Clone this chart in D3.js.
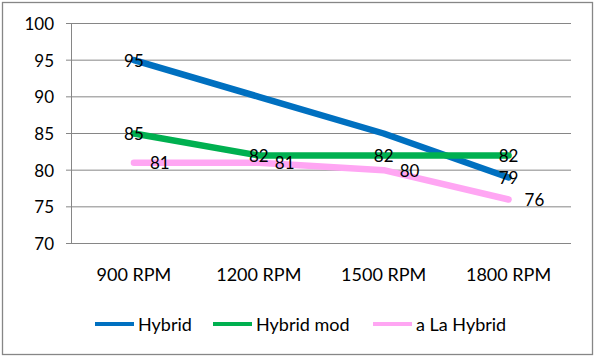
<!DOCTYPE html>
<html><head><meta charset="utf-8">
<script src="https://cdn.jsdelivr.net/npm/d3@7"></script>
<style>body{margin:0;background:#fff}svg{display:block}</style>
</head><body><svg id="c" width="595" height="357"></svg>
<script>
const categories = ["900 RPM","1200 RPM","1500 RPM","1800 RPM"];
const seriesNames = ["Hybrid","Hybrid mod","a La Hybrid"];
const hybrid = [95, 90, 85, 79];
const hybridMod = [85, 82, 82, 82];
const aLaHybrid = [81, 81, 80, 76];
const yTicks = [70, 75, 80, 85, 90, 95, 100];
// which points carry a data label
const hybridLabels = [true, false, false, true];
const hybridModLabels = [true, true, true, true];
const aLaHybridLabels = [true, true, true, true];

const colors = ["#0070C0", "#00B050", "#FFA6F3"];
const font = "Lato, 'Liberation Sans', sans-serif";

const svg = d3.select("#c");
svg.append("rect").attr("x", 2.5).attr("y", 2.5).attr("width", 590).attr("height", 352)
  .attr("fill", "#fff").attr("stroke", "#868686").attr("stroke-width", 1.3);

const x = d3.scaleBand().domain(categories).range([71.5, 571]);
const y = d3.scaleLinear().domain([70, 100]).range([243.5, 23.5]);

// gridlines
svg.append("g").selectAll("line").data(yTicks).join("line")
  .attr("x1", 66).attr("x2", 571).attr("y1", d => y(d)).attr("y2", d => y(d))
  .attr("stroke", "#868686").attr("stroke-width", 1);
// vertical axis line
svg.append("line").attr("x1", 71.5).attr("x2", 71.5).attr("y1", y(100)).attr("y2", y(70))
  .attr("stroke", "#868686").attr("stroke-width", 1);

// y tick labels
svg.append("g").selectAll("text").data(yTicks).join("text")
  .attr("x", 54).attr("y", d => y(d)).attr("text-anchor", "end")
  .attr("dominant-baseline", "central").attr("font-family", font).attr("font-size", 17)
  .attr("fill", "#000").text(d => d);

// x labels
svg.append("g").selectAll("text").data(categories).join("text")
  .attr("x", d => x(d) + x.bandwidth() / 2).attr("y", 274).attr("text-anchor", "middle")
  .attr("dominant-baseline", "central").attr("font-family", font).attr("font-size", 18)
  .attr("fill", "#000").text(d => d);

const series = [
  {name: seriesNames[0], vals: hybrid, show: hybridLabels, color: colors[0], pos: "center"},
  {name: seriesNames[1], vals: hybridMod, show: hybridModLabels, color: colors[1], pos: "center"},
  {name: seriesNames[2], vals: aLaHybrid, show: aLaHybridLabels, color: colors[2], pos: "right"}
];

const line = d3.line().x((d, i) => x(categories[i]) + x.bandwidth() / 2).y(d => y(d));
series.forEach(s => {
  svg.append("path").datum(s.vals).attr("d", line).attr("fill", "none")
    .attr("stroke", s.color).attr("stroke-width", 6.5)
    .attr("stroke-linecap", "round").attr("stroke-linejoin", "round");
});
series.forEach(s => {
  svg.append("g").selectAll("text").data(s.vals.map((v, i) => ({v, i})).filter(d => s.show[d.i])).join("text")
    .attr("x", d => x(categories[d.i]) + x.bandwidth() / 2 + (s.pos === "right" ? 16 : 0))
    .attr("y", d => y(d.v))
    .attr("text-anchor", s.pos === "right" ? "start" : "middle")
    .attr("dominant-baseline", "central").attr("font-family", font).attr("font-size", 17)
    .attr("fill", "#000").text(d => d.v);
});

// legend
const legendX = [95, 213, 373];
const lg = svg.append("g");
series.forEach((s, i) => {
  lg.append("line").attr("x1", legendX[i]).attr("x2", legendX[i] + 39).attr("y1", 324).attr("y2", 324)
    .attr("stroke", s.color).attr("stroke-width", 4);
  lg.append("text").attr("x", legendX[i] + 43).attr("y", 324).attr("dominant-baseline", "central")
    .attr("font-family", font).attr("font-size", 18).attr("fill", "#000").text(s.name);
});
</script></body></html>
